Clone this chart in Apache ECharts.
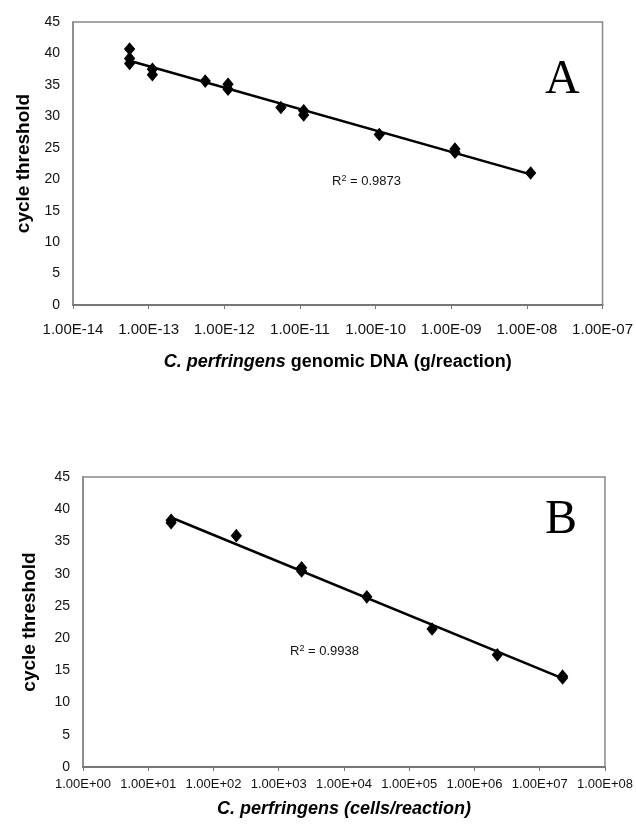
<!DOCTYPE html>
<html>
<head>
<meta charset="utf-8">
<script src="https://cdn.jsdelivr.net/npm/echarts@6/dist/echarts.min.js"></script>
<style>
html,body{margin:0;padding:0;background:#fff;}
#chart{width:636px;height:825px;}
</style>
</head>
<body>
<div id="chart"></div>
<script>
// Panel A: genomic DNA (g/reaction) vs cycle threshold
const dnaA = [5.6e-14, 5.6e-14, 5.6e-14, 1.12e-13, 1.12e-13, 5.6e-13, 1.12e-12, 1.12e-12, 5.6e-12, 1.12e-11, 1.12e-11, 1.12e-10, 1.12e-9, 1.12e-9, 1.12e-8];
const ctA  = [40.7, 39.2, 38.4, 37.5, 36.6, 35.6, 35.1, 34.3, 31.4, 30.9, 30.2, 27.1, 24.8, 24.3, 21.0];
const xRangeA = [1e-14, 1e-7];
const r2A = 'R{s|2} = 0.9873';

// Panel B: cells/reaction vs cycle threshold
const cellsB = [22.4, 22.4, 224, 2240, 2240, 22400, 224000, 2240000, 22400000, 22400000];
const ctB    = [37.9, 38.3, 35.9, 30.9, 30.4, 26.4, 21.4, 17.4, 14.1, 13.8];
const xRangeB = [1, 1e8];
const r2B = 'R{s|2} = 0.9938';

const yTicks = {min: 0, max: 45, interval: 5};

function fit(xs, ys) {
  const lx = xs.map(v => Math.log10(v));
  const n = lx.length;
  const mx = lx.reduce((a, b) => a + b, 0) / n;
  const my = ys.reduce((a, b) => a + b, 0) / n;
  let sxy = 0, sxx = 0;
  for (let i = 0; i < n; i++) { sxy += (lx[i] - mx) * (ys[i] - my); sxx += (lx[i] - mx) ** 2; }
  const b = sxy / sxx, a = my - b * mx;
  const x0 = Math.min(...xs), x1 = Math.max(...xs);
  return [[x0, a + b * Math.log10(x0)], [x1, a + b * Math.log10(x1)]];
}

function expLabel(v) {
  const e = Math.round(Math.log10(v));
  return '1.00E' + (e < 0 ? '-' : '+') + String(Math.abs(e)).padStart(2, '0');
}

const FONT = '"Liberation Sans", Arial, sans-serif';

function yAxis(gridIndex, nameGap) {
  return {
    type: 'value', gridIndex: gridIndex, min: yTicks.min, max: yTicks.max, interval: yTicks.interval,
    name: 'cycle threshold', nameLocation: 'middle', nameGap: nameGap,
    nameTextStyle: {fontFamily: FONT, fontWeight: 'bold', fontSize: 19, color: '#000'},
    axisLine: {show: true, lineStyle: {color: '#888', width: 1.5}},
    axisTick: {show: false},
    splitLine: {show: false},
    axisLabel: {fontFamily: FONT, fontSize: 14, color: '#111', margin: 13}
  };
}

function xAxis(gridIndex, range, name, rich, labelSize, labelMargin, nameGap) {
  return {
    type: 'log', logBase: 10, gridIndex: gridIndex, min: range[0], max: range[1], interval: 1,
    name: name, nameLocation: 'middle', nameGap: nameGap,
    nameTextStyle: {fontFamily: FONT, fontWeight: 'bold', fontSize: 18, color: '#000', rich: rich},
    axisLine: {show: true, lineStyle: {color: '#777', width: 2}},
    axisTick: {show: true, length: 4, inside: false, lineStyle: {color: '#777', width: 1}},
    minorTick: {show: false},
    splitLine: {show: false},
    axisLabel: {fontFamily: FONT, fontSize: labelSize, color: '#111', margin: labelMargin, formatter: expLabel, showMinLabel: true, showMaxLabel: true}
  };
}

const richA = {
  i: {fontFamily: FONT, fontWeight: 'bold', fontStyle: 'italic', fontSize: 18, color: '#000'},
  n: {fontFamily: FONT, fontWeight: 'bold', fontSize: 18, color: '#000'}
};
const richB = {
  i: {fontFamily: FONT, fontWeight: 'bold', fontStyle: 'italic', fontSize: 18, color: '#000'}
};

const marker = {symbol: 'diamond', symbolSize: [10, 12], itemStyle: {color: '#000', borderColor: '#000', borderWidth: 1, opacity: 1}};

const chart = echarts.init(document.getElementById('chart'), null, {renderer: 'canvas'});
chart.setOption({
  backgroundColor: '#fff',
  animation: false,
  grid: [
    {left: 73, top: 22, width: 530, height: 283, show: true, borderColor: '#888', borderWidth: 1.5, backgroundColor: '#fff'},
    {left: 83, top: 477, width: 525, height: 290, show: true, borderColor: '#888', borderWidth: 1.5, backgroundColor: '#fff'}
  ],
  xAxis: [
    xAxis(0, xRangeA, '{i|C. perfringens} {n|genomic DNA (g/reaction)}', richA, 15, 17, 48),
    xAxis(1, xRangeB, '{i|C. perfringens (cells/reaction)}', richB, 13, 11, 33)
  ],
  yAxis: [yAxis(0, 36), yAxis(1, 44)],
  series: [
    {type: 'line', xAxisIndex: 0, yAxisIndex: 0, data: fit(dnaA, ctA), showSymbol: false, symbol: 'none',
     lineStyle: {color: '#000', width: 2.5}, z: 2},
    Object.assign({type: 'scatter', xAxisIndex: 0, yAxisIndex: 0, data: dnaA.map((x, i) => [x, ctA[i]]), z: 3}, marker),
    {type: 'line', xAxisIndex: 1, yAxisIndex: 1, data: fit(cellsB, ctB), showSymbol: false, symbol: 'none',
     lineStyle: {color: '#000', width: 2.5}, z: 2},
    Object.assign({type: 'scatter', xAxisIndex: 1, yAxisIndex: 1, data: cellsB.map((x, i) => [x, ctB[i]]), z: 3}, marker)
  ],
  graphic: [
    {type: 'text', left: 545, top: 56, style: {text: 'A', fontFamily: '"Liberation Serif", "Times New Roman", serif', fontSize: 48, fill: '#000'}},
    {type: 'text', left: 545, top: 496, style: {text: 'B', fontFamily: '"Liberation Serif", "Times New Roman", serif', fontSize: 48, fill: '#000'}},
    {type: 'text', left: 332, top: 174, style: {text: r2A, fontFamily: FONT, fontSize: 13, fill: '#111',
      rich: {s: {fontFamily: FONT, fontSize: 9, verticalAlign: 'top', padding: [0, 0, 6, 0], fill: '#111'}}}},
    {type: 'text', left: 290, top: 644, style: {text: r2B, fontFamily: FONT, fontSize: 13, fill: '#111',
      rich: {s: {fontFamily: FONT, fontSize: 9, verticalAlign: 'top', padding: [0, 0, 6, 0], fill: '#111'}}}}
  ]
});
</script>
</body>
</html>
